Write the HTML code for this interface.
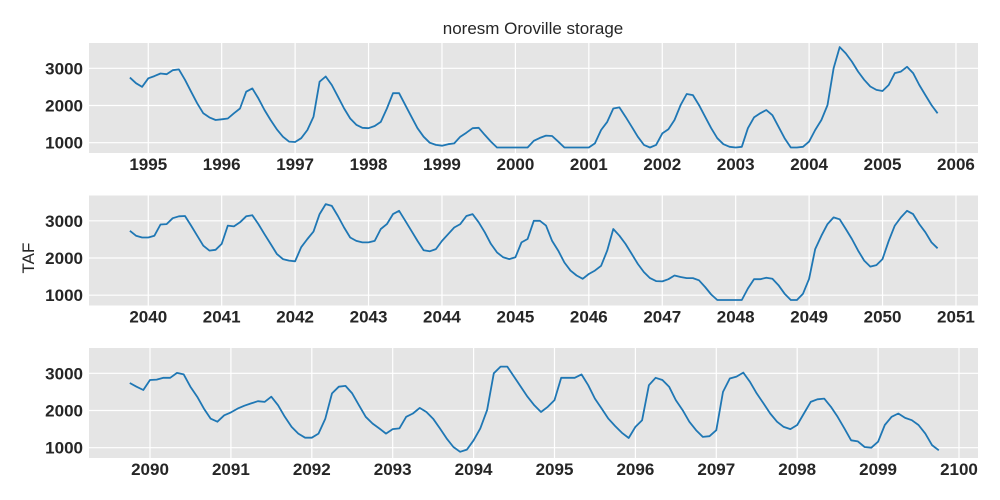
<!DOCTYPE html>
<html><head><meta charset="utf-8"><style>
body{margin:0;background:#fff;width:1000px;height:500px;overflow:hidden}
svg{display:block;font-family:"Liberation Sans",Arial,sans-serif}
</style></head><body>
<svg id="chart" width="1000" height="500">
<text x="533" y="34" text-anchor="middle" font-size="17" fill="#262626">noresm Oroville storage</text>
<text x="34" y="258" text-anchor="middle" font-size="17" fill="#262626" transform="rotate(-90 34 258)">TAF</text>
</svg>
<script>
const yTicks=[1000,2000,3000];
const p1Years=[1995,1996,1997,1998,1999,2000,2001,2002,2003,2004,2005,2006];
const p2Years=[2040,2041,2042,2043,2044,2045,2046,2047,2048,2049,2050,2051];
const p3Years=[2090,2091,2092,2093,2094,2095,2096,2097,2098,2099,2100];
const p1Values=[2750,2600,2500,2730,2790,2860,2840,2950,2970,2690,2370,2060,
1790,1680,1610,1630,1650,1790,1920,2370,2460,2190,1880,1610,
1360,1160,1030,1020,1120,1340,1700,2640,2780,2550,2240,1920,
1650,1480,1400,1390,1450,1560,1920,2330,2330,2010,1700,1390,
1160,1000,940,920,960,980,1160,1270,1390,1400,1210,1030,
870,870,870,870,870,870,1050,1130,1190,1180,1030,870,
870,870,870,870,980,1340,1560,1920,1950,1700,1430,1160,
940,870,940,1250,1360,1610,2010,2310,2280,2010,1700,1390,
1120,960,890,870,890,1390,1680,1790,1880,1740,1430,1120,
870,870,890,1030,1340,1610,2010,3000,3570,3400,3180,2910,
2690,2510,2420,2390,2550,2870,2910,3040,2870,2550,2280,2010,1790];
const p2Values=[2730,2600,2550,2550,2600,2900,2910,3070,3120,3130,2870,2600,
2330,2200,2220,2380,2870,2850,2960,3120,3150,2910,2640,2380,
2110,1970,1930,1910,2290,2510,2710,3180,3450,3400,3130,2820,
2550,2460,2420,2420,2460,2780,2910,3180,3270,3000,2730,2460,
2210,2180,2240,2460,2640,2820,2910,3130,3180,2960,2690,2380,
2150,2020,1970,2020,2420,2510,3000,3000,2870,2460,2200,1880,
1660,1530,1440,1570,1660,1790,2200,2780,2600,2380,2110,1840,
1620,1460,1380,1370,1430,1530,1490,1460,1460,1400,1220,1020,
870,870,870,870,870,1180,1430,1430,1470,1440,1270,1040,
870,870,1040,1440,2240,2600,2910,3090,3040,2780,2510,2200,
1930,1770,1810,1970,2460,2870,3090,3270,3180,2910,2690,2420,2260];
const p3Values=[2740,2640,2550,2820,2830,2880,2880,3010,2970,2640,2370,2050,
1780,1700,1870,1950,2050,2130,2190,2250,2230,2370,2140,1830,
1560,1380,1270,1270,1380,1780,2460,2640,2660,2460,2140,1830,
1650,1520,1380,1500,1520,1830,1920,2070,1960,1780,1520,1250,
1020,890,950,1200,1520,2010,3000,3180,3180,2910,2640,2370,
2140,1960,2100,2280,2880,2880,2880,2970,2680,2320,2050,1780,
1580,1400,1260,1560,1740,2680,2880,2820,2640,2280,2010,1700,
1470,1290,1310,1470,2500,2860,2910,3020,2770,2460,2190,1920,
1700,1560,1500,1610,1920,2230,2300,2320,2100,1830,1520,1200,
1170,1020,1000,1160,1610,1830,1920,1800,1740,1610,1380,1070,930];
const p1Start=1994.75, p2Start=2039.75, p3Start=2089.75;
const NS='http://www.w3.org/2000/svg';
const svg=document.getElementById('chart');
function mk(tag,attrs,parent){const e=document.createElementNS(NS,tag);for(const k in attrs)e.setAttribute(k,attrs[k]);(parent||svg).appendChild(e);return e;}
const L=89,R=978,H=110,yMin=723,yMax=3680;
function panel(idx,top,x0,x1,years,values,start){
  const g=mk('g',{});
  
  
  const xs=v=>L+(v-x0)/(x1-x0)*(R-L);
  const ys=v=>top+H-(v-yMin)/(yMax-yMin)*H;
  const bg=mk('rect',{x:L,y:top,width:R-L,height:H,fill:'#e5e5e5'},g);
  
  
  years.forEach(y=>{
    const x=xs(y);
    const l=mk('line',{x1:x,x2:x,y1:top,y2:top+H,stroke:'#fff','stroke-width':1.2},g);
    
    
    const t=mk('text',{x:x,y:top+H+17,'text-anchor':'middle','font-size':17,'font-weight':'bold',fill:'#262626'},g);
    t.textContent=y;
    
    
  });
  yTicks.forEach(v=>{
    const y=ys(v);
    const l=mk('line',{x1:L,x2:R,y1:y,y2:y,stroke:'#fff','stroke-width':1.2},g);
    
    
    const t=mk('text',{x:83,y:y+6,'text-anchor':'end','font-size':17,'font-weight':'bold',fill:'#262626'},g);
    t.textContent=v;
    
    
  });
  const pts=values.map((v,i)=>xs(start+i/12).toFixed(1)+','+ys(v).toFixed(1)).join(' ');
  const pl=mk('polyline',{points:pts,fill:'none',stroke:'#1f77b4','stroke-width':1.8,'stroke-linejoin':'round'},g);
  
  
}
panel(1,43,1994.193,2006.30,p1Years,p1Values,p1Start);
panel(2,195.5,2039.193,2051.30,p2Years,p2Values,p2Start);
panel(3,348,2089.246,2100.235,p3Years,p3Values,p3Start);
</script>
</body></html>
